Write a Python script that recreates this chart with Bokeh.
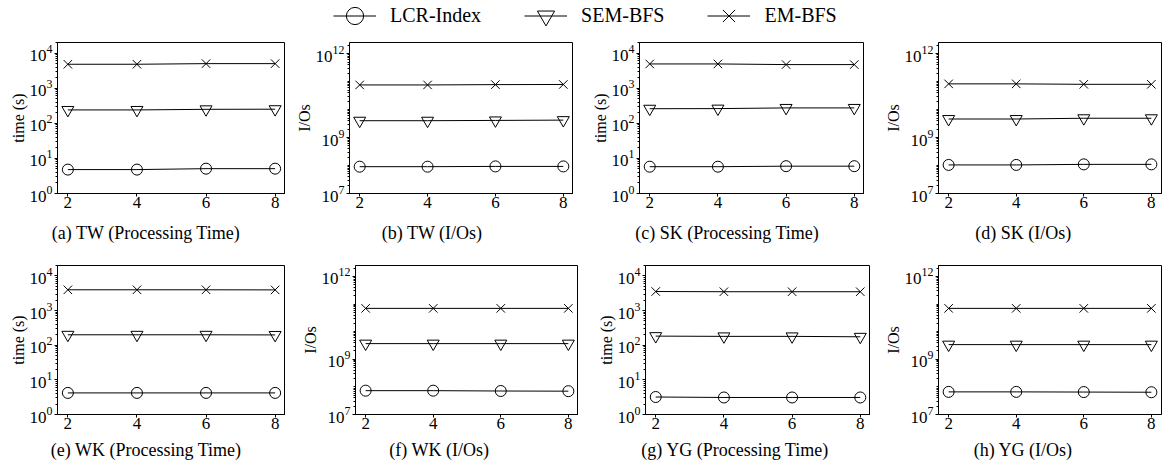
from bokeh.plotting import figure
from bokeh.models import FixedTicker, Legend, LegendItem, Range1d, ColumnDataSource
from bokeh.core.properties import value
from bokeh.layouts import column, row
from bokeh.embed import file_html
from bokeh.resources import INLINE

# ---------------- data ----------------
x_vals = [2, 4, 6, 8]
series_names = ["LCR-Index", "SEM-BFS", "EM-BFS"]

tw_time_lcr = [4.8, 4.8, 5.1, 5.1]
tw_time_sem = [240, 240, 250, 252]
tw_time_em = [4800, 4800, 5000, 5000]
tw_io_lcr = [9.1e7, 9.1e7, 9.3e7, 9.3e7]
tw_io_sem = [4.0e9, 4.0e9, 4.1e9, 4.2e9]
tw_io_em = [7.6e10, 7.6e10, 7.8e10, 7.9e10]

sk_time_lcr = [5.8, 5.8, 6.0, 6.0]
sk_time_sem = [260, 262, 274, 274]
sk_time_em = [4900, 4900, 4700, 4700]
sk_io_lcr = [1.05e8, 1.05e8, 1.1e8, 1.1e8]
sk_io_sem = [4.6e9, 4.6e9, 4.9e9, 4.9e9]
sk_io_em = [8.3e10, 8.3e10, 8.0e10, 8.0e10]

wk_time_lcr = [4.2, 4.2, 4.2, 4.2]
wk_time_sem = [200, 200, 200, 198]
wk_time_em = [3980, 3980, 3980, 3950]
wk_io_lcr = [7.3e7, 7.3e7, 7.1e7, 7.0e7]
wk_io_sem = [3.7e9, 3.7e9, 3.7e9, 3.7e9]
wk_io_em = [7.0e10, 7.0e10, 7.0e10, 7.0e10]

yg_time_lcr = [3.2, 3.1, 3.1, 3.1]
yg_time_sem = [183, 180, 180, 175]
yg_time_em = [3550, 3500, 3500, 3500]
yg_io_lcr = [6.6e7, 6.6e7, 6.5e7, 6.4e7]
yg_io_sem = [3.4e9, 3.4e9, 3.4e9, 3.4e9]
yg_io_em = [7.0e10, 7.0e10, 7.0e10, 7.0e10]

captions = ["(a)  TW (Processing Time)", "(b)  TW (I/Os)",
            "(c)  SK (Processing Time)", "(d)  SK (I/Os)",
            "(e)  WK (Processing Time)", "(f)  WK (I/Os)",
            "(g)  YG (Processing Time)", "(h)  YG (I/Os)"]
time_ticks = [1, 10, 100, 1000, 10000]
io_ticks = [1e7, 1e9, 1e12]

panel_data = [
    ("time", tw_time_lcr, tw_time_sem, tw_time_em),
    ("io", tw_io_lcr, tw_io_sem, tw_io_em),
    ("time", sk_time_lcr, sk_time_sem, sk_time_em),
    ("io", sk_io_lcr, sk_io_sem, sk_io_em),
    ("time", wk_time_lcr, wk_time_sem, wk_time_em),
    ("io", wk_io_lcr, wk_io_sem, wk_io_em),
    ("time", yg_time_lcr, yg_time_sem, yg_time_em),
    ("io", yg_io_lcr, yg_io_sem, yg_io_em),
]

# ---------------- styling / geometry ----------------
FONT = "Liberation Serif"
TOTAL_W = 1162
markers = ["circle", "inverted_triangle", "x"]
msizes = [11, 12, 12]
# (min_border_left, frame_width, min_border_right, caption centre from frame left)
geom_row1 = [(57, 228, 0, 91), (64, 224, 0, 85), (66, 225, 0, 90), (74, 223, 1, 87)]
geom_row2 = [(57, 228, 0, 91), (70, 223, 0, 86), (67, 225, 0, 92), (68, 223, 1, 87)]


def make_panel(kind, ys, geom, top, fh, bottom):
    left, fw, right, _ = geom
    if kind == "time":
        yr = Range1d(1, 2e4)
        ticks = time_ticks
        minor = [m * 10 ** e for e in range(0, 5) for m in range(2, 10)]
        ylab = "time (s)"
    else:
        yr = Range1d(1e7, 2.5e12)
        ticks = io_ticks
        minor = [m * 10 ** e for e in range(7, 13) for m in range(1, 10)]
        ylab = "I/Os"
    p = figure(frame_width=fw, frame_height=fh, y_axis_type="log",
               x_range=Range1d(1.7, 8.3), y_range=yr,
               toolbar_location=None, output_backend="svg",
               min_border_left=left, min_border_right=right,
               min_border_top=top, min_border_bottom=bottom)
    p.grid.visible = False
    p.outline_line_color = "black"
    p.outline_line_width = 1
    for k, yv in enumerate(ys):
        src = ColumnDataSource(dict(x=x_vals, y=yv))
        p.line("x", "y", source=src, line_color="black", line_width=1)
        p.scatter("x", "y", source=src, marker=markers[k], size=msizes[k],
                  line_color="black", fill_color=None, line_width=1)
    p.xaxis.ticker = FixedTicker(ticks=x_vals)
    p.yaxis.ticker = FixedTicker(ticks=ticks, minor_ticks=minor)
    p.yaxis.axis_label = ylab
    for ax in (p.xaxis[0], p.yaxis[0]):
        ax.axis_line_color = "black"
        ax.major_tick_line_color = "black"
        ax.minor_tick_line_color = "black"
        ax.major_tick_out = 3
        ax.major_tick_in = 0
        ax.minor_tick_out = 2
        ax.minor_tick_in = 0
        ax.major_label_text_font = FONT
        ax.major_label_text_font_size = "17px"
        ax.major_label_text_color = "black"
        ax.axis_label_text_font = FONT
        ax.axis_label_text_font_size = "16px"
        ax.axis_label_text_font_style = "normal"
        ax.axis_label_text_color = "black"
    p.xaxis.major_label_standoff = 0
    p.yaxis.major_label_standoff = 2
    p.yaxis.axis_label_standoff = 0
    return p


def caption_strip(geoms, texts, height, cy_from_top):
    xs = []
    pos = 0
    for left, fw, right, cap_x in geoms:
        xs.append(pos + left + cap_x)
        pos += left + fw + right
    s = figure(width=TOTAL_W, height=height, toolbar_location=None, output_backend="svg",
               x_axis_location=None, y_axis_location=None, min_border=0,
               x_range=Range1d(0, TOTAL_W), y_range=Range1d(height, 0))
    s.grid.visible = False
    s.outline_line_color = None
    s.text(x=xs, y=[cy_from_top] * len(xs), text=texts, text_align="center",
           text_baseline="middle", text_font=value(FONT), text_font_size="18px",
           text_color="black")
    return s


figs1 = [make_panel(panel_data[i][0], panel_data[i][1:], geom_row1[i], 12, 151, 28)
         for i in range(4)]
figs2 = [make_panel(panel_data[i][0], panel_data[i][1:], geom_row2[i - 4], 22, 149, 24)
         for i in range(4, 8)]
cap1 = caption_strip(geom_row1, captions[0:4], 22, 11)
cap2 = caption_strip(geom_row2, captions[4:8], 26, 11)

# ---------------- legend strip ----------------
STRIP_H = 30
lg = figure(width=TOTAL_W, height=STRIP_H, toolbar_location=None, output_backend="svg",
            x_axis_location=None, y_axis_location=None, min_border=0,
            x_range=Range1d(0, 1), y_range=Range1d(0, 1))
lg.grid.visible = False
lg.outline_line_color = None
items = []
nan = float("nan")
for k, name in enumerate(series_names):
    src = ColumnDataSource(dict(x=[nan], y=[nan]))
    r1 = lg.line("x", "y", source=src, line_color="black", line_width=1)
    r2 = lg.scatter("x", "y", source=src, marker=markers[k], size=17,
                    line_color="black", fill_color=None, line_width=1)
    items.append(LegendItem(label=name, renderers=[r1, r2]))
legend = Legend(items=items, orientation="horizontal", location=(333, STRIP_H - 15 - 21.5),
                glyph_width=43, glyph_height=43, label_standoff=14, spacing=43,
                padding=0, margin=0, border_line_color=None,
                background_fill_alpha=0, label_text_font=FONT,
                label_text_font_size="20px", label_text_color="black")
lg.add_layout(legend, "center")

layout = column(lg, row(*figs1), cap1, row(*figs2), cap2)
open("out.html", "w").write(file_html(layout, INLINE))
